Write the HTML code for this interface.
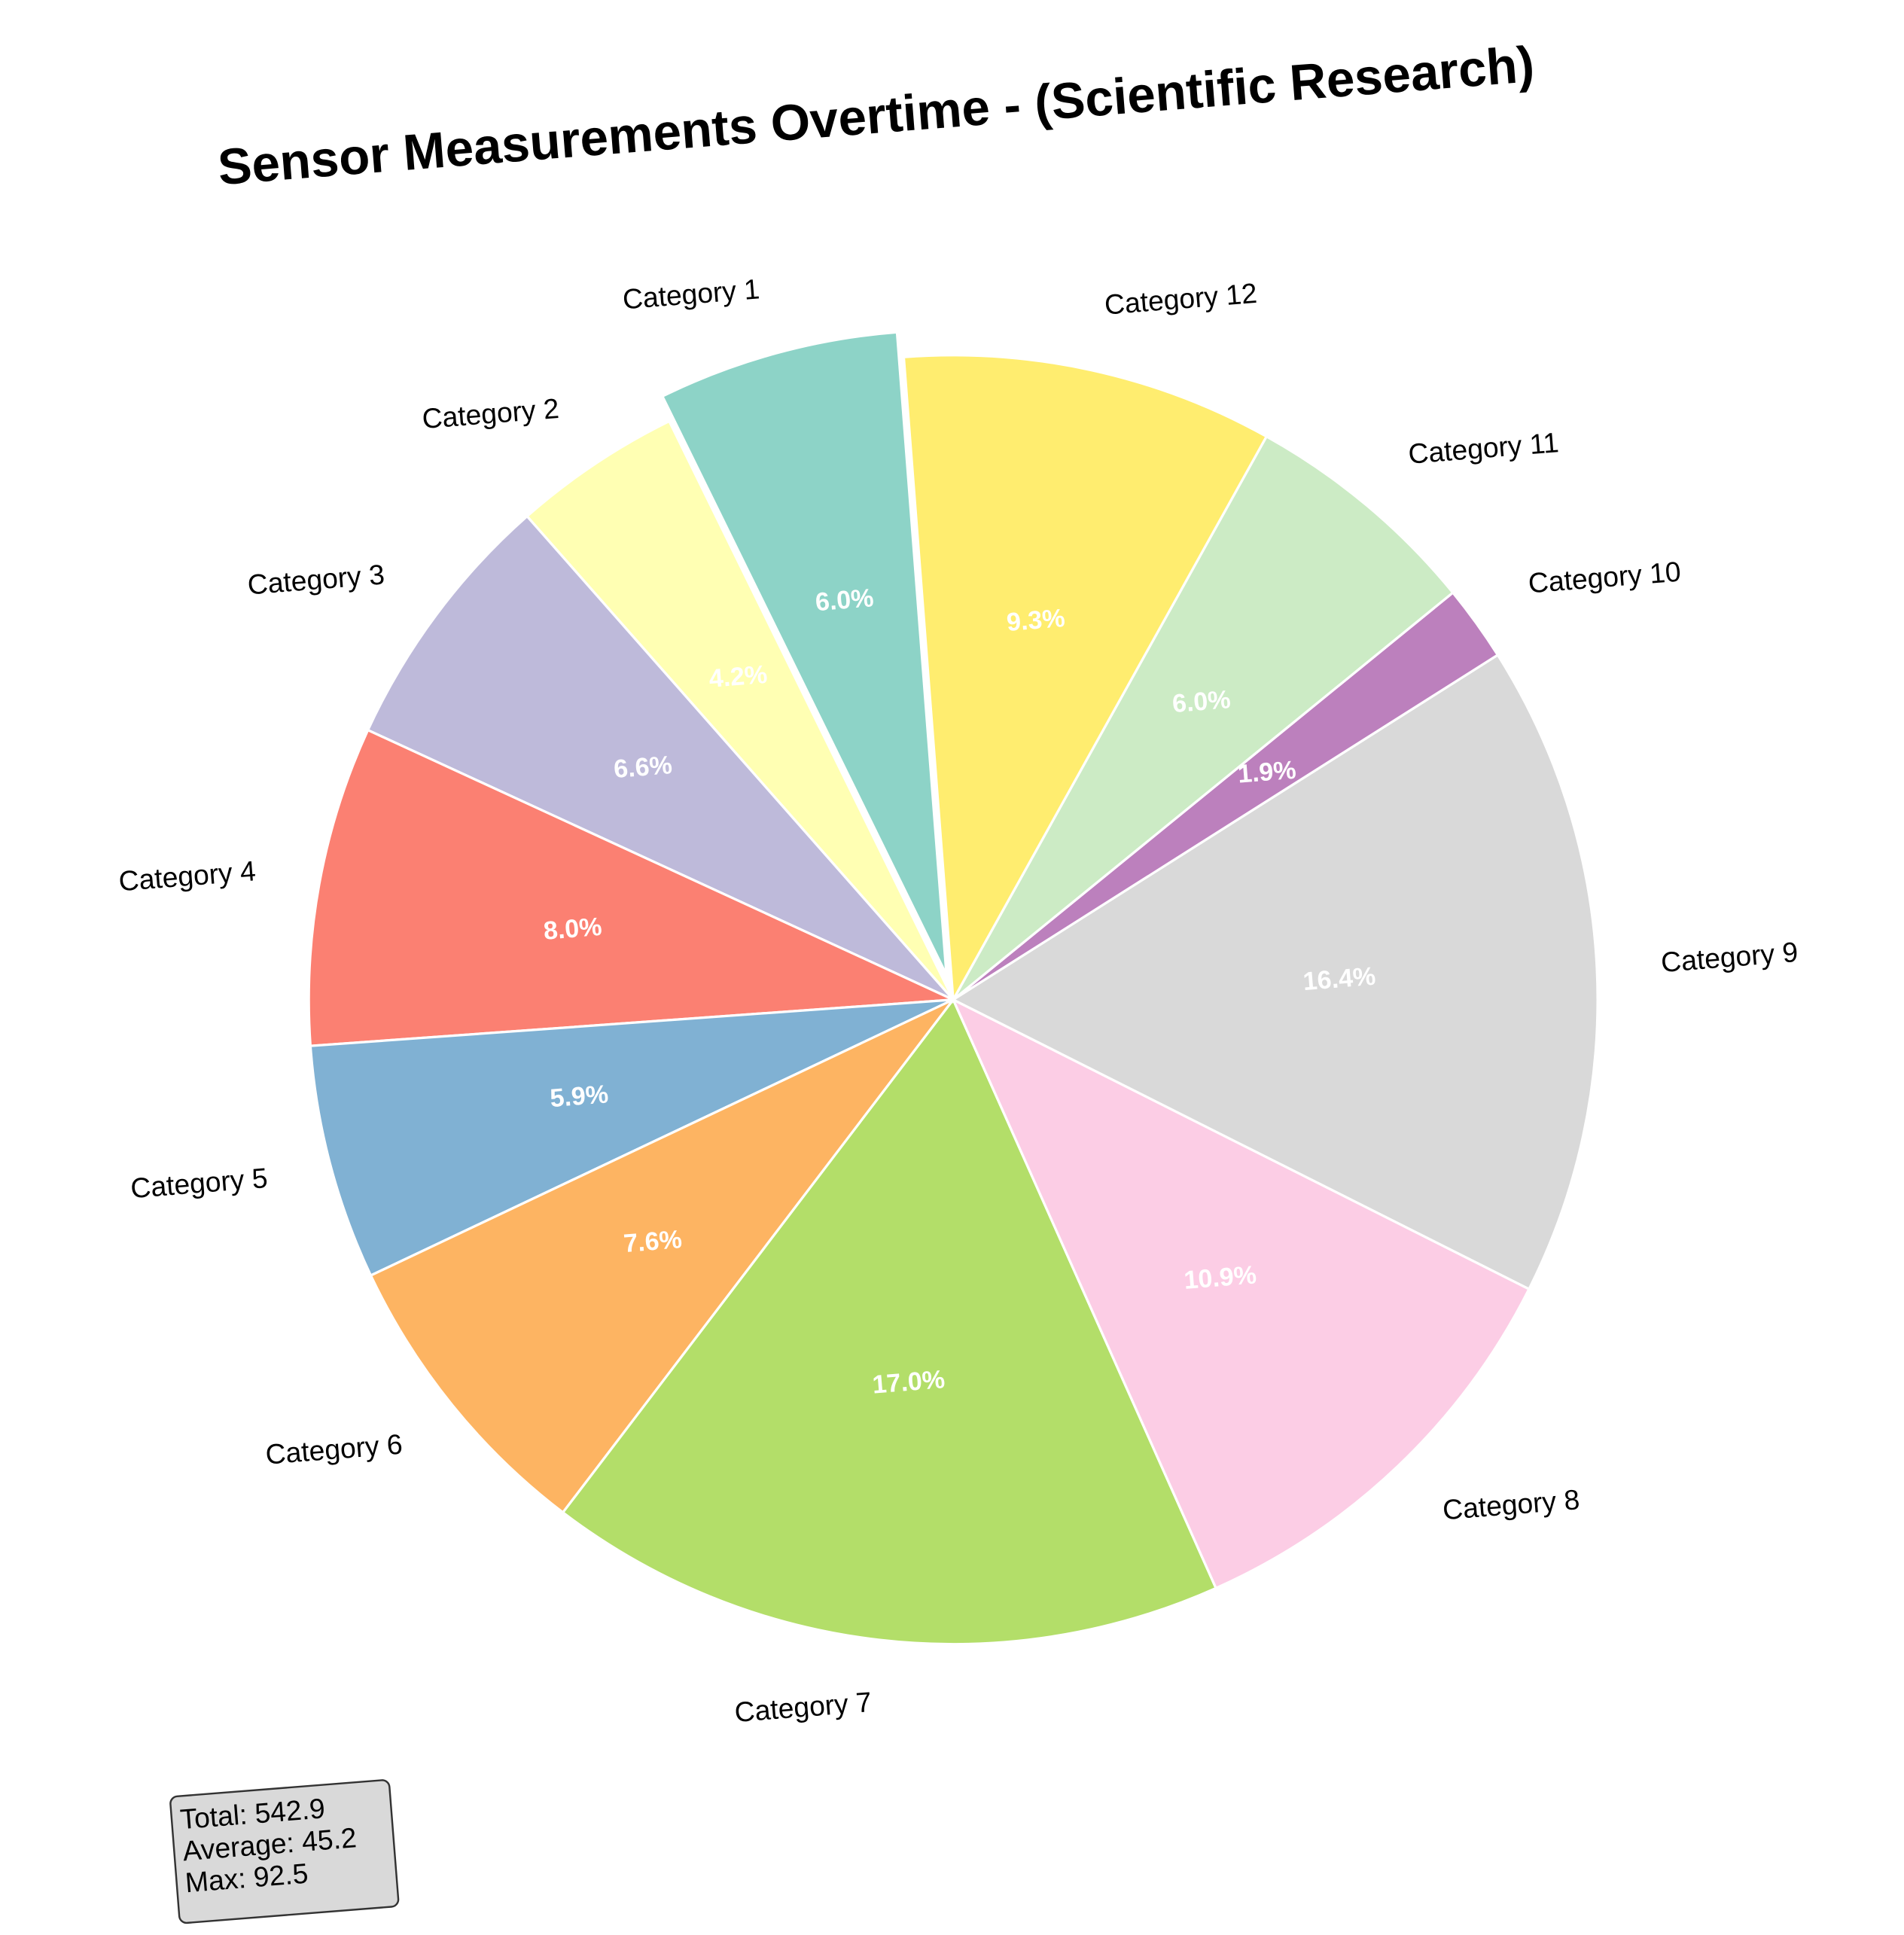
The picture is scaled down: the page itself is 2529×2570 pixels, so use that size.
<!DOCTYPE html>
<html><head><meta charset="utf-8"><style>html,body{margin:0;padding:0;background:#fff}svg{display:block}</style></head>
<body>
<svg id="chart" xmlns="http://www.w3.org/2000/svg" width="2529" height="2570" viewBox="0 0 1560 1585.3">
<rect width="1560" height="1586" fill="#fff"/>
<text x="718" y="98" transform="rotate(-4.5 718 98)" text-anchor="middle" dominant-baseline="middle" font-family="Liberation Sans, sans-serif" font-weight="bold" font-size="41.5" fill="#000">Sensor Measurements Overtime - (Scientific Research)</text>
<g id="pie"></g>
<g transform="rotate(-4.5 232 1517)">
<rect x="143" y="1465" width="180" height="104" rx="6" fill="#d9d9d9" stroke="#333" stroke-width="1.5"/>
<text x="150" y="1492" font-family="Liberation Sans, sans-serif" font-size="23" fill="#000">Total: 542.9</text>
<text x="150" y="1518" font-family="Liberation Sans, sans-serif" font-size="23" fill="#000">Average: 45.2</text>
<text x="150" y="1544" font-family="Liberation Sans, sans-serif" font-size="23" fill="#000">Max: 92.5</text>
</g>
</svg>
<script>
const categories = ["Category 1","Category 2","Category 3","Category 4","Category 5","Category 6","Category 7","Category 8","Category 9","Category 10","Category 11","Category 12"];
const values = [32.8,23.0,36.0,43.5,32.0,41.3,92.5,59.2,89.0,10.3,32.8,50.5];
const colors = ["#8dd3c7","#ffffb3","#bebada","#fb8072","#80b1d3","#fdb462","#b3de69","#fccde5","#d9d9d9","#bc80bd","#ccebc5","#ffed6f"];
const explode = [0.04,0,0,0,0,0,0,0,0,0,0,0];

const NS = "http://www.w3.org/2000/svg";
const g = document.getElementById('pie');
const cx = 781, cy = 819, r = 528, startAngle = 94.4, rot = -4.5;
const total = values.reduce((a,b)=>a+b,0);
const pt = (a, rad, ox, oy) => [ox + rad*Math.cos(a*Math.PI/180), oy - rad*Math.sin(a*Math.PI/180)];
let a0 = startAngle;
values.forEach((v,i)=>{
  const sweep = v/total*360, a1 = a0 + sweep, mid = (a0+a1)/2;
  const [ox, oy] = pt(mid, explode[i]*r, cx, cy);
  const [x0,y0] = pt(a0, r, ox, oy), [x1,y1] = pt(a1, r, ox, oy);
  const p = document.createElementNS(NS,'path');
  p.setAttribute('d', `M${ox},${oy} L${x0},${y0} A${r},${r} 0 ${sweep>180?1:0} 0 ${x1},${y1} Z`);
  p.setAttribute('fill', colors[i]);
  p.setAttribute('stroke', '#fff');
  p.setAttribute('stroke-width', '2');
  
  
  g.appendChild(p);
  const [lx,ly] = pt(mid, 1.1*r, ox, oy);
  const t = document.createElementNS(NS,'text');
  t.setAttribute('x', lx); t.setAttribute('y', ly);
  t.setAttribute('text-anchor', lx > cx ? 'start' : 'end');
  t.setAttribute('dominant-baseline', 'middle');
  t.setAttribute('transform', `rotate(${rot} ${lx} ${ly})`);
  t.setAttribute('font-family', 'Liberation Sans, sans-serif');
  t.setAttribute('font-size', '23');
  t.textContent = categories[i];
  
  
  g.appendChild(t);
  const [px,py] = pt(mid, 0.6*r, ox, oy);
  const q = document.createElementNS(NS,'text');
  q.setAttribute('x', px); q.setAttribute('y', py);
  q.setAttribute('text-anchor', 'middle');
  q.setAttribute('dominant-baseline', 'middle');
  q.setAttribute('transform', `rotate(${rot} ${px} ${py})`);
  q.setAttribute('font-family', 'Liberation Sans, sans-serif');
  q.setAttribute('font-size', '21');
  q.setAttribute('font-weight', 'bold');
  q.setAttribute('fill', '#fff');
  q.textContent = (v/total*100).toFixed(1) + '%';
  
  
  g.appendChild(q);
  a0 = a1;
});
</script>
</body></html>
